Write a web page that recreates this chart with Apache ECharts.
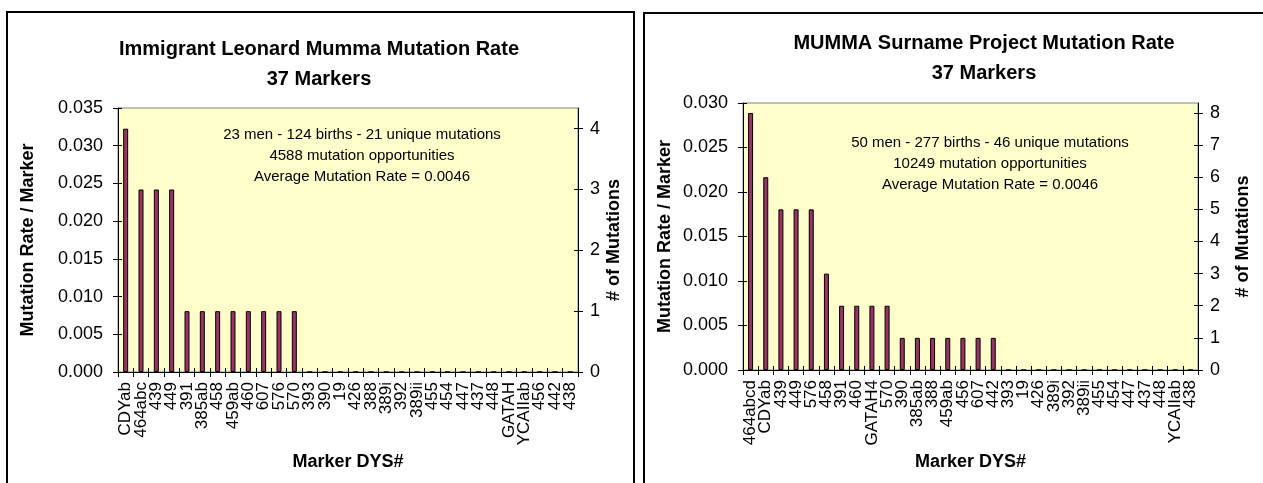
<!DOCTYPE html>
<html>
<head>
<meta charset="utf-8">
<script src="https://cdn.jsdelivr.net/npm/echarts@6/dist/echarts.min.js"></script>
<style>
html, body { margin: 0; padding: 0; background: #fff; }
#show { width: 1263px; height: 483px; }
</style>
</head>
<body>
<div id="show"></div>
<script>
// left chart: Immigrant Leonard Mumma
var leftMarkers = ['CDYab', '464abc', '439', '449', '391', '385ab', '458', '459ab', '460', '607', '576', '570',
    '393', '390', '19', '426', '388', '389i', '392', '389ii', '455', '454', '447', '437', '448', 'GATAH',
    'YCAIIab', '456', '442', '438'];
var leftCounts = [4, 3, 3, 3, 1, 1, 1, 1, 1, 1, 1, 1,
    0, 0, 0, 0, 0, 0, 0, 0, 0, 0, 0, 0, 0, 0, 0, 0, 0, 0];
var leftBirths = 124;
var leftRateMax = 0.035;
var leftCountTicks = [0, 1, 2, 3, 4];
var leftTitle = ['Immigrant Leonard Mumma Mutation Rate', '37 Markers'];
var leftNote = ['23 men - 124 births - 21 unique mutations', '4588 mutation opportunities', 'Average Mutation Rate = 0.0046'];

// right chart: MUMMA surname project
var rightMarkers = ['464abcd', 'CDYab', '439', '449', '576', '458', '391', '460', 'GATAH4', '570', '390',
    '385ab', '388', '459ab', '456', '607', '442', '393', '19', '426', '389i', '392', '389ii', '455', '454',
    '447', '437', '448', 'YCAIIab', '438'];
var rightCounts = [8, 6, 5, 5, 5, 3, 2, 2, 2, 2, 1, 1, 1, 1, 1, 1, 1,
    0, 0, 0, 0, 0, 0, 0, 0, 0, 0, 0, 0, 0];
var rightBirths = 277;
var rightRateMax = 0.030;
var rightCountTicks = [0, 1, 2, 3, 4, 5, 6, 7, 8];
var rightTitle = ['MUMMA Surname Project Mutation Rate', '37 Markers'];
var rightNote = ['50 men - 277 births - 46 unique mutations', '10249 mutation opportunities', 'Average Mutation Rate = 0.0046'];

var FONT = '"Liberation Sans", Arial, sans-serif';
var black = { color: '#000', width: 1 };
var nameStyle = { fontFamily: FONT, fontSize: 18, fontWeight: 'bold', color: '#000' };

function xAx(i, markers) {
    return {
        type: 'category', gridIndex: i, data: markers,
        name: 'Marker DYS#', nameLocation: 'middle', nameGap: 76, nameTextStyle: nameStyle,
        axisLine: { lineStyle: black },
        axisTick: { show: true, interval: 0, length: 5, lineStyle: black },
        axisLabel: { interval: 0, rotate: 90, fontSize: 17, margin: 10, color: '#000', fontFamily: FONT, hideOverlap: false },
        splitLine: { show: false }
    };
}

// inner half of the crossing tick marks
function xIn(i, markers) {
    return {
        type: 'category', gridIndex: i, data: markers, position: 'bottom',
        axisLine: { show: false },
        axisTick: { show: true, inside: true, interval: 0, length: 4, lineStyle: black },
        axisLabel: { show: false }, splitLine: { show: false }
    };
}

function rateAx(i, max, gap) {
    return {
        type: 'value', gridIndex: i, position: 'left', min: 0, max: max, interval: 0.005,
        name: 'Mutation Rate / Marker', nameLocation: 'middle', nameRotate: 90, nameGap: gap, nameTextStyle: nameStyle,
        axisLine: { show: true, lineStyle: black },
        axisTick: { show: true, length: 5, lineStyle: black },
        axisLabel: { fontSize: 18, margin: 15, color: '#000', fontFamily: FONT,
            formatter: function (v) { return v.toFixed(3); } },
        splitLine: { show: false }
    };
}

function countAx(i, max, ticks, gap) {
    return {
        type: 'value', gridIndex: i, position: 'right', min: 0, max: max,
        name: '# of Mutations', nameLocation: 'middle', nameRotate: 90, nameGap: gap, nameTextStyle: nameStyle,
        axisLine: { show: true, lineStyle: black },
        axisTick: { show: true, length: 5, lineStyle: black, customValues: ticks },
        axisLabel: { fontSize: 18, margin: 12, color: '#000', fontFamily: FONT, customValues: ticks },
        splitLine: { show: false }
    };
}

function yIn(i, pos, max, ticks, interval) {
    var ax = {
        type: 'value', gridIndex: i, position: pos, min: 0, max: max,
        axisLine: { show: false },
        axisTick: { show: true, inside: true, length: 4, lineStyle: black },
        axisLabel: { show: false }, splitLine: { show: false }
    };
    if (ticks) { ax.axisTick.customValues = ticks; ax.axisLabel.customValues = ticks; }
    if (interval) ax.interval = interval;
    return ax;
}

function txt(x, y, lines, size, weight, lh) {
    return {
        type: 'text', x: x, y: y, z: 100,
        style: { text: lines.join('\n'), fontFamily: FONT, fontSize: size, fontWeight: weight,
            fill: '#000', align: 'center', verticalAlign: 'top', lineHeight: lh }
    };
}

var myChart = echarts.init(document.getElementById('show'));

myChart.setOption({
    animation: false,
    backgroundColor: '#fff',
    grid: [
        { left: 118, top: 108, width: 460, height: 264, show: true, backgroundColor: '#FFFFCC', borderColor: '#808080', borderWidth: 1 },
        { left: 743, top: 103, width: 455, height: 267, show: true, backgroundColor: '#FFFFCC', borderColor: '#808080', borderWidth: 1 }
    ],
    xAxis: [xAx(0, leftMarkers), xAx(1, rightMarkers), xIn(0, leftMarkers), xIn(1, rightMarkers)],
    yAxis: [
        rateAx(0, leftRateMax, 81),
        countAx(0, leftRateMax * leftBirths, leftCountTicks, 27),
        rateAx(1, rightRateMax, 69),
        countAx(1, rightRateMax * rightBirths, rightCountTicks, 36),
        yIn(0, 'left', leftRateMax, null, 0.005),
        yIn(0, 'right', leftRateMax * leftBirths, leftCountTicks),
        yIn(1, 'left', rightRateMax, null, 0.005),
        yIn(1, 'right', rightRateMax * rightBirths, rightCountTicks)
    ],
    series: [
        { type: 'bar', xAxisIndex: 0, yAxisIndex: 1, data: leftCounts, barWidth: 5,
          itemStyle: { color: '#993366', borderColor: '#000', borderWidth: 1 } },
        { type: 'bar', xAxisIndex: 1, yAxisIndex: 3, data: rightCounts, barWidth: 5,
          itemStyle: { color: '#993366', borderColor: '#000', borderWidth: 1 } }
    ],
    graphic: [
        { type: 'rect', shape: { x: 7, y: 12, width: 627, height: 500 }, style: { fill: null, stroke: '#000', lineWidth: 2 } },
        { type: 'rect', shape: { x: 644, y: 13, width: 640, height: 500 }, style: { fill: null, stroke: '#000', lineWidth: 2 } },
        txt(319, 34, leftTitle, 20, 'bold', 30),
        txt(984, 28, rightTitle, 20, 'bold', 30),
        txt(362, 124, leftNote, 15, 'normal', 21),
        txt(990, 132, rightNote, 15, 'normal', 21)
    ]
});
</script>
</body>
</html>
